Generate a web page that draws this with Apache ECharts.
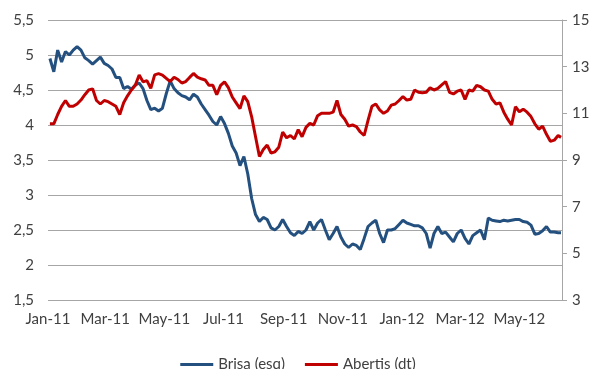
<!DOCTYPE html>
<html>
<head>
<meta charset="utf-8">
<script src="https://cdn.jsdelivr.net/npm/echarts@6/dist/echarts.min.js"></script>
<style>
html,body{margin:0;padding:0;background:#fff;}
#chart{width:596px;height:369px;}
</style>
</head>
<body>
<div id="chart"></div>
<script>
const dates = [
'2011-01-03','2011-01-07','2011-01-11','2011-01-15','2011-01-19','2011-01-23','2011-01-27','2011-01-31',
'2011-02-04','2011-02-08','2011-02-12','2011-02-16','2011-02-20','2011-02-24','2011-02-28',
'2011-03-04','2011-03-08','2011-03-12','2011-03-16','2011-03-20','2011-03-24','2011-03-28',
'2011-04-01','2011-04-05','2011-04-09','2011-04-13','2011-04-17','2011-04-21','2011-04-25','2011-04-29',
'2011-05-03','2011-05-07','2011-05-11','2011-05-15','2011-05-19','2011-05-23','2011-05-27','2011-05-31',
'2011-06-04','2011-06-08','2011-06-12','2011-06-16','2011-06-20','2011-06-24','2011-06-28',
'2011-07-02','2011-07-06','2011-07-10','2011-07-14','2011-07-18','2011-07-22','2011-07-26','2011-07-30',
'2011-08-03','2011-08-07','2011-08-11','2011-08-15','2011-08-19','2011-08-23','2011-08-27','2011-08-31',
'2011-09-04','2011-09-08','2011-09-12','2011-09-16','2011-09-20','2011-09-24','2011-09-28',
'2011-10-02','2011-10-06','2011-10-10','2011-10-14','2011-10-18','2011-10-22','2011-10-26','2011-10-30',
'2011-11-03','2011-11-07','2011-11-11','2011-11-15','2011-11-19','2011-11-23','2011-11-27',
'2011-12-01','2011-12-05','2011-12-09','2011-12-13','2011-12-17','2011-12-21','2011-12-25','2011-12-29',
'2012-01-02','2012-01-06','2012-01-10','2012-01-14','2012-01-18','2012-01-22','2012-01-26','2012-01-30',
'2012-02-03','2012-02-07','2012-02-11','2012-02-15','2012-02-19','2012-02-23','2012-02-27',
'2012-03-02','2012-03-06','2012-03-10','2012-03-14','2012-03-18','2012-03-22','2012-03-26','2012-03-30',
'2012-04-03','2012-04-07','2012-04-11','2012-04-15','2012-04-19','2012-04-23','2012-04-27',
'2012-05-01','2012-05-05','2012-05-09','2012-05-13','2012-05-17','2012-05-21','2012-05-25','2012-05-29',
'2012-06-02','2012-06-06','2012-06-10','2012-06-13'
];

const brisa = [
4.95,4.76,5.07,4.90,5.05,5.00,5.07,5.12,
5.07,4.96,4.92,4.87,4.92,4.97,4.88,
4.85,4.80,4.68,4.68,4.52,4.55,4.51,
4.57,4.60,4.52,4.35,4.22,4.24,4.20,4.24,
4.45,4.63,4.52,4.46,4.42,4.40,4.36,4.44,
4.40,4.30,4.22,4.14,4.05,4.00,4.12,
4.02,3.88,3.70,3.60,3.42,3.55,3.30,2.95,
2.72,2.62,2.68,2.65,2.53,2.50,2.55,2.65,
2.55,2.46,2.42,2.48,2.45,2.50,2.62,
2.50,2.60,2.65,2.50,2.36,2.45,2.55,2.40,
2.30,2.25,2.30,2.28,2.22,2.38,2.55,
2.60,2.64,2.45,2.32,2.50,2.50,2.52,2.58,
2.64,2.60,2.58,2.56,2.56,2.53,2.45,2.24,
2.45,2.55,2.45,2.47,2.40,2.33,2.45,
2.50,2.38,2.30,2.42,2.46,2.50,2.36,2.67,
2.64,2.63,2.62,2.64,2.63,2.64,2.65,
2.65,2.62,2.61,2.57,2.44,2.45,2.49,2.55,
2.47,2.47,2.46,2.46
];

const abertis = [
10.55,10.55,10.95,11.30,11.55,11.30,11.30,11.40,
11.57,11.80,12.00,12.05,11.55,11.40,11.55,
11.50,11.40,11.30,10.95,11.45,11.75,12.00,
12.20,12.64,12.35,12.40,12.07,12.65,12.70,12.64,
12.50,12.36,12.55,12.45,12.30,12.36,12.54,12.71,
12.55,12.48,12.43,12.20,12.20,11.80,12.20,
12.35,12.10,11.70,11.45,11.20,11.75,11.50,10.85,
10.00,9.15,9.45,9.64,9.30,9.35,9.55,10.20,
9.95,10.05,9.90,10.30,10.00,10.40,10.57,
10.50,10.90,11.00,11.00,11.00,11.05,11.55,10.95,
10.75,10.45,10.50,10.43,10.20,10.05,10.70,
11.30,11.40,11.15,11.00,11.10,11.35,11.40,11.55,
11.72,11.57,11.60,12.00,11.90,11.88,11.90,12.10,
12.00,12.07,12.22,12.36,11.90,11.83,11.95,
12.00,11.60,12.00,11.95,12.20,12.14,12.00,11.95,
11.60,11.40,11.45,11.05,10.75,10.50,11.28,
11.07,11.18,11.05,10.86,10.55,10.32,10.45,10.10,
9.80,9.85,10.05,9.97
];

const xStart = '2011-01-01';
const xEnd = '2012-06-14';
const xLabelDates = ['2011-01-01','2011-03-01','2011-05-01','2011-07-01','2011-09-01','2011-11-01','2012-01-01','2012-03-01','2012-05-01'];
const rightTicks = [3,5,7,9,11,13,15];
const seriesNames = ['Brisa (esq)','Abertis (dt)'];
const monthNames = ['Jan','Feb','Mar','Apr','May','Jun','Jul','Aug','Sep','Oct','Nov','Dec'];

const FONT = 'Lato';
const TXT = '#404040';
const ts = d => Date.parse(d + 'T00:00:00Z');

const chart = echarts.init(document.getElementById('chart'), null, {renderer:'canvas'});
chart.setOption({
  animation:false,
  backgroundColor:'#ffffff',
  textStyle:{fontFamily:FONT},
  grid:{left:48,right:34,top:20,bottom:69,containLabel:false},
  legend:{
    data:seriesNames,
    top:352,
    left:'center',
    icon:'rect',
    itemWidth:33,
    itemHeight:3,
    itemGap:20,
    textStyle:{fontFamily:FONT,fontSize:15,color:TXT}
  },
  xAxis:{
    type:'value',
    min:ts(xStart),
    max:ts(xEnd),
    axisLine:{show:false},
    axisTick:{show:false},
    splitLine:{show:false},
    axisLabel:{
      customValues: xLabelDates.map(ts),
      margin:12,
      fontSize:15,
      color:TXT,
      fontFamily:FONT,
      formatter:function(v){
        const d = new Date(v);
        return monthNames[d.getUTCMonth()] + '-' + String(d.getUTCFullYear()).slice(2);
      }
    }
  },
  yAxis:[
    {
      type:'value',
      min:1.5,max:5.5,interval:0.5,
      axisLine:{show:false},
      axisTick:{show:false},
      splitLine:{lineStyle:{color:'#a6a6a6',width:1}},
      axisLabel:{
        margin:14,fontSize:15,color:TXT,fontFamily:FONT,
        formatter:function(v){return String(v).replace('.',',');}
      }
    },
    {
      type:'value',
      position:'right',
      min:3,max:15,
      axisLine:{show:true,lineStyle:{color:'#a6a6a6',width:1}},
      axisTick:{show:true,length:5,lineStyle:{color:'#a6a6a6'},customValues:rightTicks},
      splitLine:{show:false},
      axisLabel:{
        customValues:rightTicks,
        margin:10,fontSize:15,color:TXT,fontFamily:FONT
      }
    }
  ],
  series:[
    {
      name:seriesNames[0],
      type:'line',
      yAxisIndex:0,
      symbol:'none',
      lineStyle:{color:'#24507f',width:3},
      itemStyle:{color:'#24507f'},
      data:dates.map((d,i)=>[ts(d),brisa[i]])
    },
    {
      name:seriesNames[1],
      type:'line',
      yAxisIndex:1,
      symbol:'none',
      lineStyle:{color:'#c00000',width:3},
      itemStyle:{color:'#c00000'},
      data:dates.map((d,i)=>[ts(d),abertis[i]])
    }
  ]
});
</script>
</body>
</html>
